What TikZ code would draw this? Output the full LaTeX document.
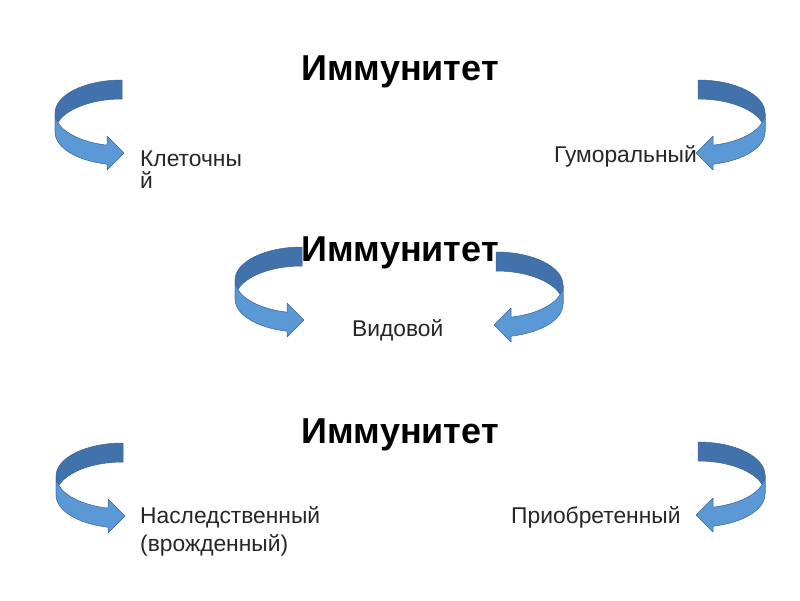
\documentclass[tikz,border=0pt]{standalone}
\usepackage{fontspec}
\setmainfont{Liberation Sans}
\definecolor{backblue}{RGB}{66,114,172}
\definecolor{frontblue}{RGB}{90,152,214}
\definecolor{edgeblue}{RGB}{58,100,152}
\tikzset{
  title/.style={font=\fontsize{36}{40}\selectfont\bfseries, inner sep=0pt, anchor=base},
  label/.style={font=\fontsize{22.8}{26}\selectfont, inner sep=0pt, text=black!85},
  curvarrow/.pic={
    \filldraw[fill=backblue, draw=edgeblue, line width=0.5pt, line join=round]
      (0,0) arc[start angle=-90, end angle=-180, x radius=67, y radius=33]
      -- ++(0,19) arc[start angle=-180, end angle=-90, x radius=67, y radius=33]
      -- cycle;
    \filldraw[fill=frontblue, draw=edgeblue, line width=0.5pt, line join=round]
      (-67,33) arc[start angle=180, end angle=102.94, x radius=67, y radius=33]
      -- (-15,56) -- (2,73) -- (-15,90) -- (-15,84.2)
      arc[start angle=102.94, end angle=180, x radius=67, y radius=33]
      -- cycle;
  }
}
\begin{document}
\begin{tikzpicture}[x=1pt,y=-1pt]
\useasboundingbox[fill=white] (0,0) rectangle (800,600);
% titles
\node[title] (t1) at (400,80) {Иммунитет};
\node[title] (t2) at (400,261) {Иммунитет};
\node[title] (t3) at (400,443) {Иммунитет};
% arrows
\pic (a1) at (122,80) {curvarrow};
\pic[xscale=-1] (a2) at (698,80) {curvarrow};
\pic (a3) at (302,247) {curvarrow};
\pic[xscale=-1] (a4) at (496,252) {curvarrow};
\pic (a5) at (123,443) {curvarrow};
\pic[xscale=-1] (a6) at (698,442) {curvarrow};
% labels
\node[label, anchor=base west] (l1) at (140,166) {Клеточны};
\node[label, anchor=base west] (l1b) at (140,188) {й};
\node[label, anchor=base east] (l2) at (697,162) {Гуморальный};
\node[label, anchor=base west] (l3) at (352,336) {Видовой};
\node[label, anchor=base west] (l5) at (140,523) {Наследственный};
\node[label, anchor=base west] (l5b) at (140,551) {(врожденный)};
\node[label, anchor=base west] (l6) at (511,523) {Приобретенный};
\end{tikzpicture}
\end{document}
